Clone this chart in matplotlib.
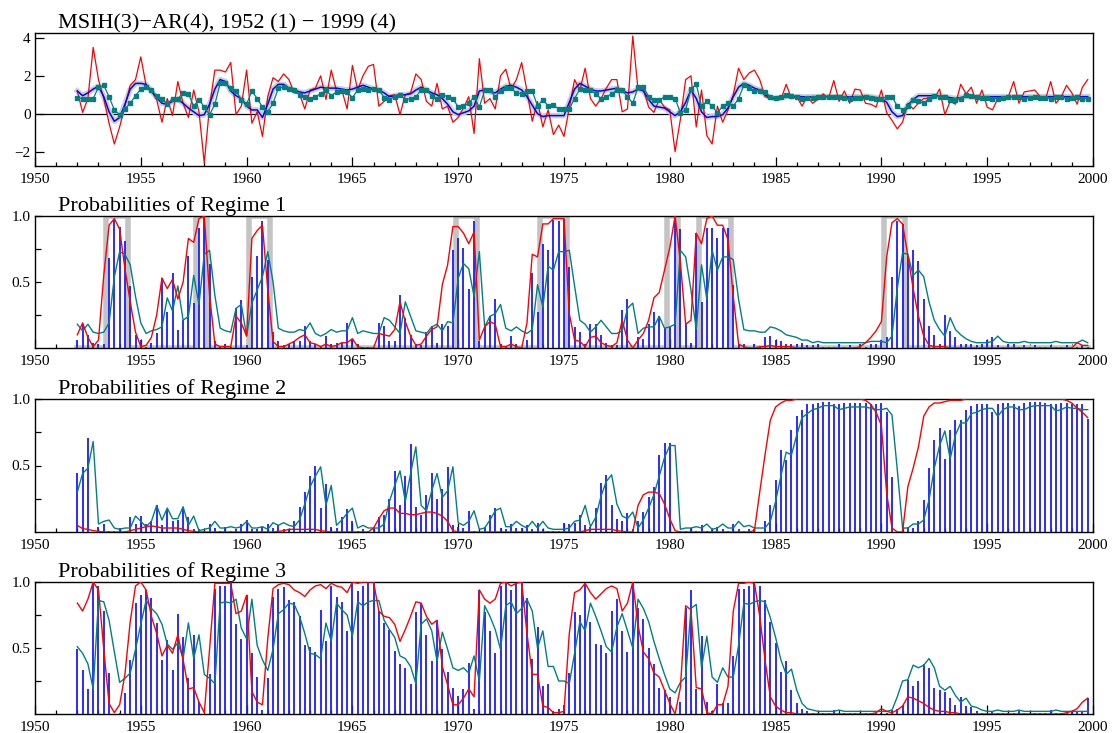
import numpy as np
import matplotlib
matplotlib.use('Agg')
import matplotlib.pyplot as plt
from matplotlib.ticker import FixedLocator, MultipleLocator, FormatStrFormatter

plt.rcParams['font.family'] = ['Liberation Serif', 'DejaVu Serif']

# quarterly sample 1952 (1) - 1999 (4)
years = 1952 + np.arange(192) / 4.0

# top panel: growth rate (red), fitted mean (blue), predicted mean (teal squares)
growth = [
    1.2, 0.07, 0.8, 3.5, 1.8, 0.8, -0.5, -1.6, -0.7, 0.4, 1.5, 1.8, 3.0, 1.5, 1.2, 0.75,
    -0.45, 0.8, -0.1, 1.7, 0.55, -0.2, 1.25, 0.1, -2.6, 0.4, 2.3, 2.3, 2.2, 2.7, -0.05, 0.4,
    2.3, -0.5, 0.1, -1.2, 0.9, 1.9, 1.7, 2.1, 1.8, 1.1, 1.05, 0.25, 1.25, 1.35, 2.0, 0.75,
    2.3, 1.2, 1.25, 0.25, 2.55, 1.25, 2.0, 2.5, 2.6, 0.4, 0.65, 0.95, 1.0, -0.05, 1.0, 1.1,
    2.1, 1.8, 0.65, 0.4, 1.6, 0.25, 0.4, -0.45, -0.2, 0.3, 0.9, -1.05, 2.9, 0.55, 0.8, 0.25,
    2.0, 2.35, 1.3, 1.8, 2.7, 1.2, -0.4, 0.65, -0.7, 0.2, -1.1, -0.6, -1.2, 0.3, 1.8, 1.25,
    2.4, 0.8, 0.4, 0.8, 1.35, 1.8, 1.8, 0.1, 0.25, 4.1, 1.25, 1.3, 0.35, 0.07, 0.75, 0.35,
    0.2, -2.0, -0.3, 1.8, 2.0, -0.7, 1.25, -1.15, -1.6, 0.4, -0.45, 0.2, 1.0, 2.4, 1.8, 2.15,
    2.3, 1.8, 0.9, 0.8, 0.75, 0.75, 1.55, 0.8, 0.9, 0.4, 0.9, 0.55, 0.75, 1.05, 0.8, 1.75,
    0.65, 1.2, 0.55, 1.3, 1.25, 0.55, 0.5, 0.35, 1.25, 0.05, -0.35, -0.8, -0.45, 0.55, 0.25, 0.55,
    0.8, 0.8, 0.8, 1.3, -0.05, 0.65, 0.5, 1.55, 1.05, 1.4, 0.55, 1.25, 0.35, 0.2, 0.8, 0.8,
    0.9, 1.7, 0.55, 1.15, 1.2, 1.25, 0.9, 0.75, 1.7, 0.55, 0.9, 1.5, 1.1, 0.5, 1.4, 1.8,
]
fitted = [
    1.2, 0.95, 1.1, 1.3, 1.45, 0.9, 0.1, -0.4, -0.2, 0.5, 1.3, 1.6, 1.6, 1.55, 1.2, 0.85,
    0.55, 0.5, 0.65, 0.75, 0.55, 0.3, 0.1, -0.1, -0.05, 0.5, 1.3, 1.8, 1.7, 1.2, 0.95, 0.8,
    0.4, 0.2, 0.2, -0.2, 0.5, 1.3, 1.55, 1.55, 1.35, 1.25, 1.15, 1.1, 1.2, 1.3, 1.4, 1.35,
    1.35, 1.35, 1.3, 1.25, 1.3, 1.4, 1.5, 1.4, 1.3, 1.25, 1.1, 0.9, 0.95, 1.0, 1.0, 1.05,
    1.25, 1.4, 1.25, 1.1, 1.0, 0.8, 0.5, 0.1, -0.05, 0.05, 0.15, 0.4, 1.2, 1.25, 1.15, 1.1,
    1.3, 1.45, 1.5, 1.4, 1.25, 0.9, 0.45, 0.0, -0.15, -0.1, -0.1, -0.1, -0.1, 0.6, 1.3, 1.6,
    1.45, 1.3, 1.2, 1.2, 1.25, 1.3, 1.35, 1.2, 1.1, 1.15, 1.3, 1.2, 0.75, 0.4, 0.35, 0.3,
    0.1, -0.1, 0.1, 0.6, 1.25, 0.8, 0.1, -0.2, -0.15, -0.15, -0.05, 0.3, 0.9, 1.4, 1.6, 1.5,
    1.35, 1.25, 1.0, 0.85, 0.8, 0.85, 0.9, 0.92, 0.9, 0.9, 0.88, 0.9, 0.9, 0.92, 0.9, 0.9,
    0.9, 0.9, 0.88, 0.9, 0.9, 0.92, 0.9, 0.85, 0.8, 0.6, 0.1, -0.15, -0.1, 0.45, 0.75, 0.95,
    0.95, 0.95, 0.95, 0.95, 0.9, 0.85, 0.8, 0.85, 0.9, 0.9, 0.9, 0.9, 0.9, 0.9, 0.9, 0.9,
    0.9, 0.9, 0.9, 0.9, 0.9, 0.9, 0.9, 0.9, 0.9, 0.9, 0.9, 0.9, 0.9, 0.9, 0.9, 0.9,
]
predicted = [
    0.85, 0.8, 0.8, 0.8, 1.4, 1.5, 0.9, 0.2, -0.05, 0.25, 0.55, 0.95, 1.3, 1.4, 1.25, 0.95,
    0.8, 0.5, 0.8, 0.8, 1.1, 1.05, 0.4, 0.75, 0.35, -0.05, 0.5, 1.6, 1.6, 1.35, 1.2, 0.75,
    0.5, 1.2, 0.8, 0.35, 0.1, 0.55, 1.35, 1.4, 1.3, 1.25, 1.0, 0.9, 0.8, 0.9, 1.05, 1.25,
    0.95, 1.15, 1.2, 1.15, 0.85, 1.25, 1.3, 1.25, 1.3, 1.25, 0.85, 0.75, 0.9, 1.0, 0.75, 0.8,
    0.9, 1.25, 1.25, 0.95, 0.8, 1.0, 0.9, 0.8, 0.35, 0.4, 0.55, 0.9, 0.35, 1.25, 1.25, 0.9,
    1.2, 1.35, 1.35, 1.1, 1.05, 1.2, 1.2, 0.4, 0.75, 0.4, 0.45, 0.25, 0.25, 0.25, 0.8, 1.3,
    1.25, 1.25, 1.05, 0.8, 0.9, 1.05, 1.25, 1.25, 0.9, 0.55, 1.4, 1.4, 0.9, 0.7, 0.7, 0.9,
    0.9, 0.8, 0.05, 0.2, 1.3, 1.55, 0.4, 0.65, 0.4, 0.05, 0.4, 0.55, 0.4, 0.8, 1.5, 1.35,
    1.2, 1.2, 1.15, 0.9, 0.85, 0.9, 1.0, 0.95, 0.9, 0.8, 0.85, 0.85, 0.9, 0.9, 0.9, 0.9,
    0.9, 0.85, 0.8, 0.85, 0.85, 0.9, 0.85, 0.8, 0.8, 0.9, 0.9, 0.4, 0.2, 0.4, 0.7, 0.65,
    0.55, 0.8, 0.95, 0.9, 0.9, 0.75, 0.75, 0.8, 1.0, 0.95, 0.9, 0.85, 0.85, 0.8, 0.8, 0.85,
    0.9, 0.9, 0.9, 0.8, 0.85, 0.9, 0.85, 0.85, 0.8, 0.9, 0.9, 0.8, 0.85, 0.9, 0.8, 0.8,
]

# NBER recession quarters (grey line in regime 1 panel)
recession = [
    0, 0, 0, 0, 0, 0, 1, 1, 1, 1, 0, 0, 0, 0, 0, 0,
    0, 0, 0, 0, 0, 0, 0, 1, 1, 0, 0, 0, 0, 0, 0, 0,
    0, 1, 1, 1, 1, 0, 0, 0, 0, 0, 0, 0, 0, 0, 0, 0,
    0, 0, 0, 0, 0, 0, 0, 0, 0, 0, 0, 0, 0, 0, 0, 0,
    0, 0, 0, 0, 0, 0, 0, 0, 1, 1, 1, 1, 0, 0, 0, 0,
    0, 0, 0, 0, 0, 0, 0, 0, 1, 1, 1, 1, 1, 0, 0, 0,
    0, 0, 0, 0, 0, 0, 0, 0, 0, 0, 0, 0, 0, 0, 0, 0,
    1, 1, 0, 0, 0, 0, 1, 1, 1, 1, 1, 1, 0, 0, 0, 0,
    0, 0, 0, 0, 0, 0, 0, 0, 0, 0, 0, 0, 0, 0, 0, 0,
    0, 0, 0, 0, 0, 0, 0, 0, 0, 1, 1, 1, 1, 0, 0, 0,
    0, 0, 0, 0, 0, 0, 0, 0, 0, 0, 0, 0, 0, 0, 0, 0,
    0, 0, 0, 0, 0, 0, 0, 0, 0, 0, 0, 0, 0, 0, 0, 0,
]

# regime 1: filtered (bars), predicted (teal), smoothed (red)
filt1 = [
    0.06, 0.18, 0.1, 0.04, 0.03, 0.03, 0.68, 0.97, 0.92, 0.81, 0.47, 0.1, 0.06, 0.01, 0.04, 0.11,
    0.53, 0.27, 0.57, 0.14, 0.21, 0.7, 0.34, 0.91, 1.0, 0.64, 0.05, 0.01, 0.03, 0.01, 0.3, 0.36,
    0.02, 0.54, 0.7, 0.96, 0.67, 0.12, 0.05, 0.02, 0.03, 0.05, 0.05, 0.17, 0.05, 0.03, 0.01, 0.09,
    0.03, 0.04, 0.04, 0.19, 0.06, 0.03, 0.01, 0.01, 0.01, 0.19, 0.17, 0.05, 0.05, 0.4, 0.23, 0.1,
    0.03, 0.02, 0.12, 0.17, 0.04, 0.18, 0.17, 0.74, 0.83, 0.76, 0.45, 0.96, 0.05, 0.16, 0.24, 0.37,
    0.03, 0.01, 0.09, 0.03, 0.01, 0.06, 0.57, 0.27, 0.79, 0.74, 0.97, 0.96, 0.98, 0.61, 0.16, 0.12,
    0.03, 0.18, 0.18, 0.1, 0.04, 0.02, 0.02, 0.29, 0.37, 0.01, 0.08, 0.07, 0.18, 0.27, 0.24, 0.15,
    0.16, 1.0, 0.9, 0.18, 0.04, 0.87, 0.35, 0.91, 0.91, 0.83, 0.91, 0.91, 0.48, 0.03, 0.03, 0.01,
    0.03, 0.01, 0.08, 0.09, 0.06, 0.05, 0.03, 0.03, 0.03, 0.04, 0.02, 0.02, 0.03, 0.01, 0.01, 0.01,
    0.03, 0.01, 0.02, 0.01, 0.03, 0.01, 0.03, 0.03, 0.06, 0.08, 0.54, 0.96, 0.94, 0.7, 0.74, 0.66,
    0.37, 0.17, 0.1, 0.03, 0.25, 0.13, 0.08, 0.03, 0.03, 0.03, 0.02, 0.03, 0.06, 0.08, 0.02, 0.01,
    0.03, 0.03, 0.01, 0.02, 0.01, 0.02, 0.01, 0.01, 0.02, 0.01, 0.01, 0.02, 0.01, 0.01, 0.02, 0.01,
]
pred1 = [
    0.18, 0.13, 0.18, 0.12, 0.11, 0.12, 0.19, 0.54, 0.73, 0.71, 0.63, 0.39, 0.19, 0.11, 0.13, 0.14,
    0.16, 0.38, 0.28, 0.47, 0.21, 0.24, 0.55, 0.33, 0.71, 0.74, 0.4, 0.15, 0.13, 0.12, 0.3, 0.33,
    0.09, 0.34, 0.44, 0.54, 0.73, 0.5, 0.15, 0.13, 0.12, 0.12, 0.14, 0.13, 0.19, 0.11, 0.09, 0.11,
    0.14, 0.12, 0.13, 0.13, 0.23, 0.11, 0.13, 0.12, 0.11, 0.11, 0.23, 0.21, 0.16, 0.11, 0.35, 0.24,
    0.13, 0.12, 0.11, 0.16, 0.18, 0.13, 0.2, 0.19, 0.53, 0.64, 0.6, 0.39, 0.73, 0.16, 0.24, 0.26,
    0.33, 0.15, 0.13, 0.16, 0.13, 0.11, 0.14, 0.48, 0.31, 0.62, 0.59, 0.73, 0.73, 0.74, 0.47, 0.21,
    0.18, 0.12, 0.16, 0.21, 0.16, 0.11, 0.11, 0.13, 0.3, 0.34, 0.11, 0.15, 0.16, 0.16, 0.24, 0.15,
    0.16, 0.18, 0.74, 0.69, 0.44, 0.14, 0.63, 0.37, 0.74, 0.59, 0.69, 0.69, 0.67, 0.37, 0.14, 0.13,
    0.13, 0.12, 0.12, 0.16, 0.15, 0.13, 0.1, 0.09, 0.08, 0.06, 0.06, 0.04, 0.05, 0.04, 0.04, 0.04,
    0.04, 0.04, 0.04, 0.04, 0.04, 0.04, 0.05, 0.05, 0.05, 0.04, 0.09, 0.45, 0.72, 0.71, 0.55, 0.59,
    0.54, 0.35, 0.21, 0.14, 0.09, 0.23, 0.14, 0.1, 0.07, 0.05, 0.04, 0.04, 0.04, 0.05, 0.09, 0.05,
    0.04, 0.04, 0.04, 0.05, 0.04, 0.04, 0.04, 0.04, 0.04, 0.05, 0.04, 0.04, 0.04, 0.04, 0.06, 0.04,
]
smooth1 = [
    0.1, 0.19, 0.08, 0.01, 0.06, 0.55, 0.93, 0.98, 0.9, 0.6, 0.35, 0.12, 0.01, 0.02, 0.08, 0.25,
    0.53, 0.45, 0.52, 0.37, 0.5, 0.83, 0.8, 0.98, 1.0, 0.4, 0.03, 0.01, 0.01, 0.01, 0.24, 0.19,
    0.09, 0.83, 0.89, 0.93, 0.44, 0.05, 0.01, 0.01, 0.03, 0.05, 0.08, 0.1, 0.04, 0.03, 0.01, 0.03,
    0.01, 0.02, 0.04, 0.04, 0.07, 0.01, 0.0, 0.0, 0.0, 0.11, 0.1, 0.09, 0.14, 0.35, 0.2, 0.09,
    0.02, 0.03, 0.09, 0.14, 0.16, 0.48, 0.63, 0.92, 0.92, 0.87, 0.79, 0.88, 0.06, 0.16, 0.2, 0.18,
    0.01, 0.01, 0.03, 0.01, 0.0, 0.19, 0.71, 0.69, 0.94, 0.94, 0.98, 0.98, 0.98, 0.26, 0.06, 0.05,
    0.01, 0.08, 0.09, 0.04, 0.02, 0.01, 0.04, 0.21, 0.06, 0.0, 0.06, 0.11, 0.21, 0.38, 0.42, 0.59,
    0.76, 1.0, 0.65, 0.18, 0.21, 0.87, 0.79, 0.98, 1.0, 0.93, 0.93, 0.82, 0.39, 0.03, 0.01, 0.0,
    0.0, 0.01, 0.01, 0.02, 0.01, 0.01, 0.01, 0.01, 0.0, 0.0, 0.0, 0.0, 0.0, 0.0, 0.0, 0.0,
    0.0, 0.0, 0.0, 0.0, 0.01, 0.04, 0.08, 0.13, 0.2, 0.69, 0.95, 0.98, 0.94, 0.7, 0.45, 0.24,
    0.09, 0.02, 0.01, 0.01, 0.01, 0.0, 0.0, 0.0, 0.0, 0.0, 0.0, 0.0, 0.0, 0.0, 0.0, 0.0,
    0.0, 0.0, 0.0, 0.0, 0.0, 0.0, 0.0, 0.0, 0.0, 0.0, 0.0, 0.0, 0.0, 0.04, 0.02, 0.02,
]

# regime 2
filt2 = [
    0.44, 0.49, 0.71, 0.0, 0.04, 0.06, 0.01, 0.01, 0.03, 0.01, 0.11, 0.06, 0.12, 0.06, 0.08, 0.2,
    0.05, 0.17, 0.08, 0.09, 0.18, 0.11, 0.02, 0.02, 0.01, 0.06, 0.03, 0.01, 0.04, 0.01, 0.02, 0.06,
    0.09, 0.02, 0.02, 0.04, 0.06, 0.03, 0.05, 0.02, 0.02, 0.08, 0.19, 0.3, 0.42, 0.5, 0.18, 0.36,
    0.04, 0.03, 0.11, 0.17, 0.08, 0.01, 0.02, 0.01, 0.03, 0.11, 0.13, 0.25, 0.46, 0.2, 0.42, 0.66,
    0.19, 0.13, 0.28, 0.44, 0.25, 0.32, 0.49, 0.05, 0.04, 0.03, 0.16, 0.01, 0.0, 0.04, 0.13, 0.18,
    0.03, 0.02, 0.06, 0.03, 0.03, 0.05, 0.02, 0.07, 0.02, 0.01, 0.01, 0.01, 0.07, 0.06, 0.07, 0.13,
    0.05, 0.04, 0.18, 0.37, 0.43, 0.2, 0.1, 0.08, 0.14, 0.02, 0.08, 0.15, 0.26, 0.34, 0.58, 0.67,
    0.67, 0.0, 0.01, 0.01, 0.03, 0.01, 0.05, 0.01, 0.02, 0.04, 0.02, 0.01, 0.06, 0.02, 0.01, 0.02,
    0.02, 0.0, 0.08, 0.2, 0.39, 0.62, 0.54, 0.77, 0.87, 0.92, 0.96, 0.96, 0.97, 0.98, 0.98, 0.96,
    0.96, 0.97, 0.97, 0.97, 0.97, 0.97, 0.96, 0.96, 0.97, 0.9, 0.41, 0.0, 0.04, 0.04, 0.03, 0.08,
    0.24, 0.48, 0.69, 0.78, 0.55, 0.77, 0.84, 0.84, 0.92, 0.95, 0.96, 0.96, 0.96, 0.9, 0.96, 0.97,
    0.97, 0.96, 0.95, 0.97, 0.98, 0.98, 0.98, 0.97, 0.96, 0.96, 0.97, 0.97, 0.96, 0.96, 0.96, 0.85,
]
pred2 = [
    0.3, 0.44, 0.48, 0.68, 0.06, 0.08, 0.09, 0.03, 0.02, 0.03, 0.03, 0.12, 0.08, 0.04, 0.08, 0.2,
    0.09, 0.18, 0.1, 0.1, 0.19, 0.05, 0.12, 0.01, 0.02, 0.03, 0.08, 0.03, 0.03, 0.04, 0.03, 0.04,
    0.08, 0.03, 0.03, 0.04, 0.02, 0.07, 0.05, 0.07, 0.05, 0.04, 0.09, 0.21, 0.34, 0.42, 0.49, 0.2,
    0.35, 0.05, 0.09, 0.14, 0.18, 0.03, 0.05, 0.03, 0.03, 0.03, 0.06, 0.23, 0.35, 0.46, 0.23, 0.44,
    0.64, 0.2, 0.16, 0.31, 0.44, 0.26, 0.31, 0.49, 0.07, 0.05, 0.08, 0.16, 0.02, 0.03, 0.09, 0.16,
    0.18, 0.04, 0.04, 0.08, 0.05, 0.03, 0.08, 0.03, 0.08, 0.03, 0.02, 0.02, 0.02, 0.03, 0.08, 0.09,
    0.2, 0.04, 0.11, 0.27, 0.38, 0.43, 0.21, 0.12, 0.1, 0.15, 0.03, 0.09, 0.18, 0.28, 0.42, 0.56,
    0.65, 0.65, 0.02, 0.03, 0.03, 0.04, 0.03, 0.06, 0.02, 0.03, 0.06, 0.03, 0.03, 0.08, 0.04, 0.05,
    0.03, 0.03, 0.03, 0.08, 0.23, 0.42, 0.6, 0.58, 0.73, 0.86, 0.89, 0.92, 0.93, 0.95, 0.95, 0.95,
    0.92, 0.93, 0.94, 0.94, 0.94, 0.94, 0.93, 0.92, 0.92, 0.93, 0.88, 0.47, 0.03, 0.03, 0.06, 0.06,
    0.09, 0.24, 0.48, 0.65, 0.76, 0.55, 0.73, 0.82, 0.82, 0.89, 0.9, 0.92, 0.93, 0.93, 0.87, 0.92,
    0.94, 0.94, 0.92, 0.92, 0.94, 0.95, 0.95, 0.95, 0.95, 0.91, 0.92, 0.94, 0.93, 0.93, 0.92, 0.92,
]
smooth2 = [
    0.05, 0.025, 0.02, 0.01, 0.005, 0.0, 0.0, 0.0, 0.0, 0.0, 0.01, 0.02, 0.03, 0.04, 0.045, 0.04,
    0.03, 0.03, 0.03, 0.03, 0.02, 0.01, 0.005, 0.0, 0.0, 0.0, 0.0, 0.0, 0.0, 0.0, 0.0, 0.0,
    0.0, 0.0, 0.0, 0.0, 0.0, 0.0, 0.005, 0.01, 0.02, 0.02, 0.02, 0.02, 0.02, 0.02, 0.01, 0.005,
    0.0, 0.0, 0.0, 0.0, 0.0, 0.0, 0.0, 0.0, 0.03, 0.1, 0.16, 0.18, 0.18, 0.14, 0.14, 0.13,
    0.13, 0.14, 0.15, 0.15, 0.14, 0.12, 0.08, 0.01, 0.0, 0.0, 0.0, 0.0, 0.0, 0.0, 0.0, 0.0,
    0.0, 0.0, 0.0, 0.0, 0.0, 0.0, 0.0, 0.0, 0.0, 0.0, 0.0, 0.0, 0.0, 0.0, 0.0, 0.0,
    0.01, 0.02, 0.02, 0.02, 0.02, 0.02, 0.01, 0.005, 0.0, 0.0, 0.2, 0.28, 0.3, 0.3, 0.29, 0.21,
    0.1, 0.01, 0.0, 0.0, 0.0, 0.0, 0.0, 0.0, 0.0, 0.0, 0.0, 0.0, 0.0, 0.0, 0.0, 0.0,
    0.01, 0.3, 0.58, 0.84, 0.94, 0.97, 0.99, 0.99, 1.0, 1.0, 1.0, 1.0, 1.0, 1.0, 1.0, 1.0,
    1.0, 1.0, 1.0, 1.0, 1.0, 0.99, 0.96, 0.9, 0.8, 0.29, 0.03, 0.0, 0.0, 0.34, 0.48, 0.64,
    0.87, 0.94, 0.97, 0.97, 0.98, 0.99, 0.99, 0.99, 1.0, 1.0, 1.0, 1.0, 1.0, 1.0, 1.0, 1.0,
    1.0, 1.0, 1.0, 1.0, 1.0, 1.0, 1.0, 1.0, 1.0, 1.0, 1.0, 0.99, 0.97, 0.93, 0.9, 0.86,
]

# regime 3
filt3 = [
    0.49, 0.33, 0.19, 1.0, 0.97, 0.78, 0.31, 0.0, 0.01, 0.16, 0.41, 0.84, 0.9, 0.94, 0.88, 0.69,
    0.41, 0.56, 0.33, 0.76, 0.58, 0.27, 0.6, 0.09, 0.0, 0.3, 0.95, 0.97, 0.97, 1.0, 0.68, 0.57,
    0.9, 0.46, 0.28, 0.03, 0.27, 0.89, 0.95, 0.96, 0.86, 0.85, 0.74, 0.52, 0.51, 0.47, 0.79, 0.55,
    0.97, 0.89, 0.85, 0.63, 0.99, 0.93, 0.97, 1.0, 1.0, 0.78, 0.69, 0.64, 0.48, 0.38, 0.35, 0.23,
    0.77, 0.84, 0.6, 0.4, 0.71, 0.49, 0.32, 0.2, 0.14, 0.19, 0.39, 0.04, 0.94, 0.77, 0.63, 0.46,
    0.97, 0.99, 0.94, 0.99, 1.0, 0.88, 0.42, 0.66, 0.21, 0.23, 0.02, 0.04, 0.07, 0.31, 0.77, 0.75,
    0.99, 0.7, 0.53, 0.52, 0.46, 0.78, 0.87, 0.63, 0.47, 1.0, 0.8, 0.72, 0.5, 0.38, 0.2, 0.18,
    0.13, 0.0, 0.09, 0.8, 0.94, 0.19, 0.59, 0.09, 0.02, 0.23, 0.08, 0.08, 0.44, 0.95, 0.95, 0.97,
    0.99, 0.97, 0.86, 0.7, 0.54, 0.32, 0.4, 0.18, 0.08, 0.04, 0.02, 0.01, 0.01, 0.01, 0.01, 0.03,
    0.01, 0.01, 0.01, 0.01, 0.01, 0.01, 0.01, 0.01, 0.01, 0.01, 0.03, 0.04, 0.07, 0.26, 0.21, 0.25,
    0.38, 0.35, 0.2, 0.18, 0.17, 0.12, 0.07, 0.13, 0.06, 0.05, 0.02, 0.01, 0.01, 0.02, 0.01, 0.01,
    0.01, 0.01, 0.02, 0.01, 0.01, 0.01, 0.01, 0.01, 0.03, 0.01, 0.01, 0.01, 0.02, 0.02, 0.02, 0.12,
]
pred3 = [
    0.51, 0.46, 0.38, 0.19, 0.86, 0.85, 0.71, 0.47, 0.24, 0.27, 0.31, 0.49, 0.68, 0.86, 0.8, 0.76,
    0.68, 0.53, 0.49, 0.54, 0.42, 0.69, 0.42, 0.6, 0.3, 0.27, 0.23, 0.84, 0.85, 0.84, 0.87, 0.65,
    0.57, 0.87, 0.52, 0.41, 0.33, 0.49, 0.76, 0.79, 0.84, 0.83, 0.74, 0.61, 0.46, 0.45, 0.42, 0.69,
    0.55, 0.84, 0.79, 0.75, 0.59, 0.85, 0.82, 0.85, 0.86, 0.86, 0.71, 0.64, 0.58, 0.44, 0.42, 0.36,
    0.23, 0.68, 0.72, 0.63, 0.4, 0.62, 0.49, 0.35, 0.33, 0.35, 0.31, 0.44, 0.25, 0.82, 0.74, 0.64,
    0.49, 0.82, 0.85, 0.76, 0.8, 0.87, 0.78, 0.5, 0.63, 0.36, 0.36, 0.25, 0.25, 0.23, 0.46, 0.7,
    0.63, 0.84, 0.74, 0.63, 0.51, 0.47, 0.66, 0.76, 0.63, 0.5, 0.87, 0.8, 0.7, 0.55, 0.42, 0.3,
    0.19, 0.16, 0.24, 0.28, 0.8, 0.83, 0.35, 0.59, 0.28, 0.24, 0.35, 0.28, 0.28, 0.52, 0.84, 0.83,
    0.85, 0.86, 0.85, 0.73, 0.58, 0.41, 0.3, 0.34, 0.18, 0.08, 0.04, 0.03, 0.02, 0.02, 0.02, 0.02,
    0.03, 0.02, 0.02, 0.02, 0.02, 0.02, 0.02, 0.02, 0.02, 0.02, 0.03, 0.13, 0.25, 0.26, 0.37, 0.35,
    0.37, 0.42, 0.35, 0.21, 0.18, 0.21, 0.14, 0.09, 0.12, 0.06, 0.05, 0.03, 0.02, 0.02, 0.03, 0.02,
    0.02, 0.02, 0.03, 0.02, 0.02, 0.02, 0.02, 0.02, 0.02, 0.03, 0.02, 0.02, 0.02, 0.02, 0.02, 0.02,
]
smooth3 = [
    0.84, 0.78, 0.87, 1.0, 0.94, 0.49, 0.08, 0.01, 0.07, 0.3, 0.7, 0.97, 1.0, 0.94, 0.74, 0.61,
    0.44, 0.52, 0.46, 0.6, 0.41, 0.19, 0.2, 0.09, 0.01, 0.49, 0.99, 0.99, 0.99, 0.99, 0.76, 0.78,
    0.9, 0.17, 0.09, 0.07, 0.57, 0.95, 0.98, 0.99, 0.98, 0.94, 0.92, 0.89, 0.94, 0.97, 0.98, 0.95,
    0.99, 0.97, 0.96, 0.92, 1.0, 0.99, 1.0, 1.0, 1.0, 0.78, 0.74, 0.73, 0.68, 0.55, 0.64, 0.74,
    0.85, 0.84, 0.74, 0.68, 0.71, 0.36, 0.22, 0.07, 0.07, 0.12, 0.19, 0.13, 0.94, 0.87, 0.84, 0.87,
    0.99, 1.0, 0.97, 0.99, 1.0, 0.61, 0.3, 0.3, 0.06, 0.05, 0.01, 0.01, 0.02, 0.61, 0.92, 0.94,
    0.99, 0.92, 0.87, 0.91, 0.95, 0.97, 0.95, 0.78, 0.84, 1.0, 0.67, 0.47, 0.42, 0.31, 0.28, 0.18,
    0.08, 0.0, 0.2, 0.82, 0.79, 0.2, 0.19, 0.01, 0.0, 0.07, 0.07, 0.21, 0.78, 0.99, 0.99, 1.0,
    0.99, 0.74, 0.41, 0.13, 0.06, 0.03, 0.01, 0.01, 0.0, 0.0, 0.0, 0.0, 0.0, 0.0, 0.0, 0.0,
    0.0, 0.0, 0.0, 0.0, 0.0, 0.0, 0.0, 0.01, 0.04, 0.02, 0.01, 0.03, 0.06, 0.13, 0.12, 0.1,
    0.08, 0.05, 0.03, 0.02, 0.02, 0.01, 0.01, 0.0, 0.0, 0.0, 0.0, 0.0, 0.0, 0.0, 0.0, 0.0,
    0.0, 0.0, 0.0, 0.0, 0.0, 0.0, 0.0, 0.0, 0.0, 0.0, 0.0, 0.01, 0.02, 0.04, 0.09, 0.12,
]

titles = ['MSIH(3)\u2212AR(4), 1952 (1) \u2212 1999 (4)',
          'Probabilities of Regime 1',
          'Probabilities of Regime 2',
          'Probabilities of Regime 3']

W, H = 1112, 733
fig = plt.figure(figsize=(W / 100, H / 100), dpi=100)
boxes = [(33, 166), (216, 348), (399, 532), (582, 714)]
axes = []
for top, bot in boxes:
    ax = fig.add_axes([35 / W, 1 - bot / H, 1058 / W, (bot - top) / H])
    axes.append(ax)

# top panel
ax = axes[0]
ax.axhline(0, color='black', lw=0.9, zorder=1)
ax.plot(years, fitted, color='#d0d0d0', lw=4, zorder=2)
ax.plot(years, growth, color='red', lw=0.9, zorder=3)
ax.plot(years, fitted, color='blue', lw=1.1, zorder=4)
ax.plot(years, predicted, color='#008080', lw=0.9, marker='s', ms=2.8, zorder=5)
ax.set_ylim(-2.76, 4.26)
ax.yaxis.set_major_locator(FixedLocator([-2, 0, 2, 4]))
ax.tick_params(axis='y', which='major', length=6.5)

# probability panels
panels = [(filt1, pred1, smooth1), (filt2, pred2, smooth2), (filt3, pred3, smooth3)]
for ax, (filt, pred, smooth) in zip(axes[1:], panels):
    ax.vlines(years, 0, filt, color='#1a1aff', lw=1.3, zorder=3)
    ax.plot(years, pred, color='#008080', lw=1.0, zorder=4)
    ax.plot(years, smooth, color='red', lw=1.0, zorder=5)
    ax.set_ylim(0, 1)
    ax.yaxis.set_major_locator(FixedLocator([0.5, 1.0]))
    ax.yaxis.set_minor_locator(FixedLocator([0.25, 0.75]))
    ax.yaxis.set_major_formatter(FormatStrFormatter('%.1f'))
    ax.tick_params(axis='y', which='both', length=4.5)

axes[1].step(years, recession, where='mid', color='#c4c4c4', lw=4, zorder=2)

for ax, title in zip(axes, titles):
    ax.set_xlim(1950, 2000)
    ax.xaxis.set_major_locator(MultipleLocator(5))
    ax.xaxis.set_minor_locator(MultipleLocator(1))
    ax.tick_params(axis='x', which='major', length=6.5)
    ax.tick_params(axis='x', which='minor', length=3)
    ax.tick_params(axis='both', which='both', direction='in', labelsize=11,
                   width=0.9, top=False, right=False)
    ax.tick_params(axis='x', pad=5)
    ax.tick_params(axis='y', pad=3)
    for s in ax.spines.values():
        s.set_linewidth(1.0)
    ax.text(23 / 1058, 1.0, title, transform=ax.transAxes, fontsize=16,
            ha='left', va='bottom')

fig.savefig('out.png', dpi=100)
